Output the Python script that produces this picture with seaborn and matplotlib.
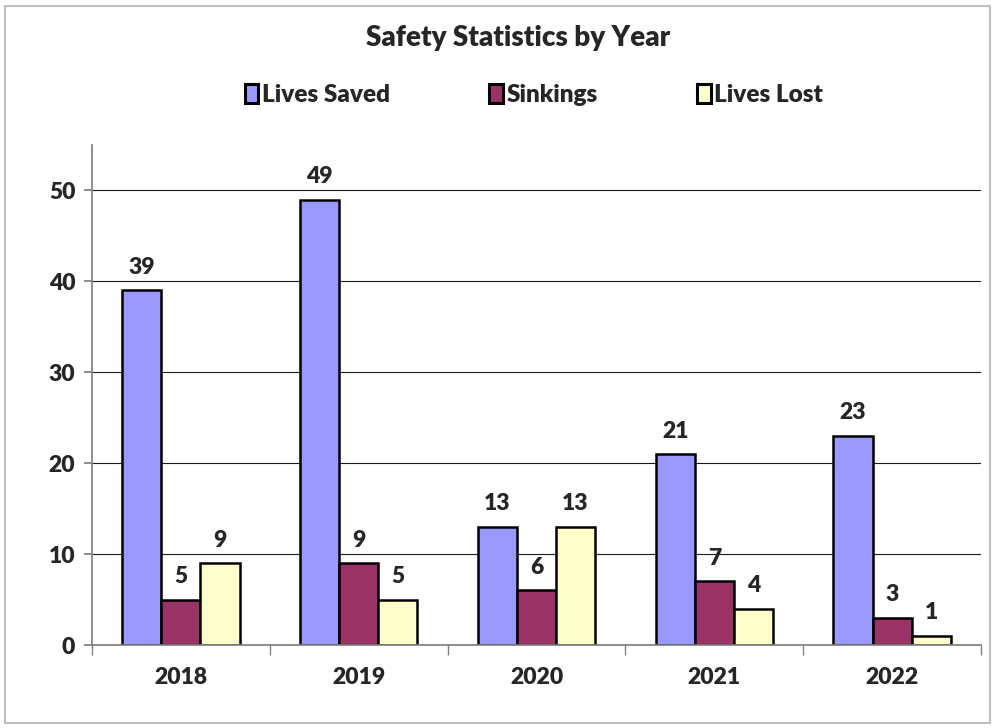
import matplotlib
matplotlib.use("Agg")
import matplotlib.pyplot as plt
import seaborn as sns
import pandas as pd
from matplotlib.patches import Rectangle

years = ["2018", "2019", "2020", "2021", "2022"]
lives_saved = [39, 49, 13, 21, 23]
sinkings = [5, 9, 6, 7, 3]
lives_lost = [9, 5, 13, 4, 1]
series = ["Lives Saved", "Sinkings", "Lives Lost"]
colors = ["#9999FF", "#993366", "#FFFFCC"]

df = pd.DataFrame({
    "Year": years * 3,
    "Series": [s for s in series for _ in years],
    "Value": lives_saved + sinkings + lives_lost,
})

sns.set_theme(style="white")
plt.rcParams["font.family"] = ["Lato", "DejaVu Sans"]
W = "heavy"

fig = plt.figure(figsize=(9.94, 7.28), dpi=100)
ax = fig.add_axes([92 / 994, 1 - 645 / 728, (981 - 92) / 994, (645 - 145) / 728])

sns.barplot(data=df, x="Year", y="Value", hue="Series", hue_order=series,
            palette=colors, width=0.66, edgecolor="black", linewidth=1.8,
            saturation=1, ax=ax, legend=True)

for cont in ax.containers:
    ax.bar_label(cont, padding=9, fontsize=16.5, fontweight=W)

ax.set_ylim(0, 55)
ax.set_yticks(range(0, 51, 10))
ax.set_xlim(-0.5, 4.5)
ax.yaxis.grid(True, color="#1a1a1a", linewidth=0.8)
ax.set_axisbelow(True)
for side in ["top", "right"]:
    ax.spines[side].set_visible(False)
ax.spines["left"].set_color("#808080")
ax.spines["bottom"].set_color("#808080")
ax.set_xlabel("")
ax.set_ylabel("")
ax.tick_params(axis="y", length=6, color="#808080", direction="out", pad=6, labelsize=16.5, left=True)
ax.tick_params(axis="x", which="major", length=0, pad=16, labelsize=16.5)
for lab in ax.get_xticklabels() + ax.get_yticklabels():
    lab.set_fontweight(W)
ax.set_xticks([i - 0.5 for i in range(6)], minor=True)
ax.tick_params(axis="x", which="minor", length=7, color="#808080", direction="out", bottom=True)

leg = ax.legend(loc="center", bbox_to_anchor=(534 / 994, 1 - 95 / 728), bbox_transform=fig.transFigure,
                ncol=3, frameon=False, fontsize=17.5, handlelength=0.55, handleheight=0.8,
                handletextpad=0.15, columnspacing=4.1)
for t in leg.get_texts():
    t.set_fontweight(W)
for h in leg.legend_handles:
    h.set_linewidth(2.2)

fig.text(518 / 994, 1 - 38 / 728, "Safety Statistics by Year", ha="center", va="center",
         fontsize=20, fontweight=W)

fig.patches.append(Rectangle((5 / 994, 5 / 728), 985 / 994, 717 / 728, transform=fig.transFigure,
                             fill=False, edgecolor="#BFBFBF", linewidth=1.5))

fig.savefig("out.png", dpi=100)
